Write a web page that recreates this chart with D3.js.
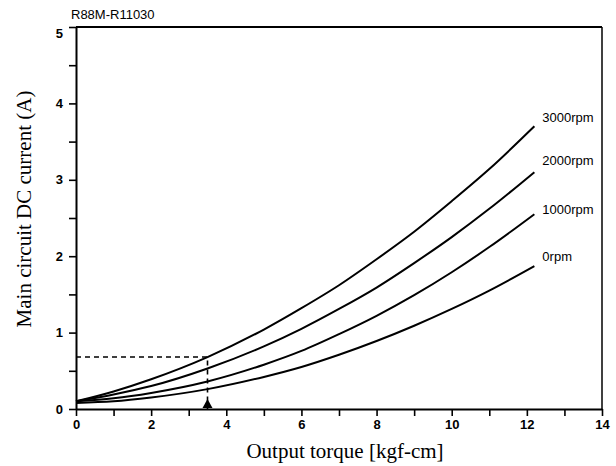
<!DOCTYPE html>
<html>
<head>
<meta charset="utf-8">
<script src="https://cdn.jsdelivr.net/npm/d3@7"></script>
<style>
  html, body { margin: 0; padding: 0; background: #fff; }
  svg { display: block; }
</style>
</head>
<body>
<svg id="chart" width="616" height="466"></svg>
<script>
// ---- data ----
const title = "R88M-R11030";
const xLabel = "Output torque [kgf-cm]";
const yLabel = "Main circuit DC current (A)";
const torque = [0, 1, 2, 3.5, 5, 6, 7, 8, 9, 10, 11, 12.2];
const seriesNames = ["3000rpm", "2000rpm", "1000rpm", "0rpm"];
const current3000 = [0.10, 0.23, 0.39, 0.68, 1.04, 1.32, 1.62, 1.96, 2.32, 2.72, 3.14, 3.70];
const current2000 = [0.10, 0.19, 0.30, 0.53, 0.82, 1.05, 1.31, 1.59, 1.91, 2.25, 2.62, 3.10];
const current1000 = [0.10, 0.14, 0.21, 0.36, 0.58, 0.76, 0.98, 1.22, 1.49, 1.79, 2.12, 2.55];
const current0 = [0.08, 0.10, 0.15, 0.26, 0.42, 0.55, 0.71, 0.89, 1.09, 1.31, 1.55, 1.87];
const xMajorTicks = [0, 2, 4, 6, 8, 10, 12, 14];
const xMinorTicks = [1, 3, 5, 7, 9, 11, 13];
const yMajorTicks = [0, 1, 2, 3, 4, 5];
const yMinorTicks = [0.5, 1.5, 2.5, 3.5, 4.5];
const markerTorque = 3.5;
const markerCurrent = 0.68;

// ---- drawing ----
const svg = d3.select("#chart");
const x = d3.scaleLinear().domain([0, 14]).range([76, 602]);
const y = d3.scaleLinear().domain([0, 5]).range([409, 27]);

const g = svg.append("g");

// frame: top and right
g.append("line").attr("x1", x(0)).attr("x2", x(14)).attr("y1", y(5)).attr("y2", y(5))
  .attr("stroke", "#000").attr("stroke-width", 2);
g.append("line").attr("x1", x(14)).attr("x2", x(14)).attr("y1", y(5)).attr("y2", y(0))
  .attr("stroke", "#000").attr("stroke-width", 1.5);

// x axis
const xAxis = g.append("g").attr("transform", `translate(0,${y(0)})`)
  .call(d3.axisBottom(x).tickValues(xMajorTicks).tickFormat(d3.format("d"))
    .tickSize(7).tickSizeOuter(0).tickPadding(4));
const xMinor = g.append("g").attr("transform", `translate(0,${y(0)})`)
  .call(d3.axisBottom(x).tickValues(xMinorTicks).tickSize(7).tickSizeOuter(0).tickFormat(""));
xMinor.select(".domain").remove();

// y axis
const yAxis = g.append("g").attr("transform", `translate(${x(0)},0)`)
  .call(d3.axisLeft(y).tickValues(yMajorTicks).tickFormat(d3.format("d"))
    .tickSize(7).tickSizeOuter(0).tickPadding(6));
const yMinor = g.append("g").attr("transform", `translate(${x(0)},0)`)
  .call(d3.axisLeft(y).tickValues(yMinorTicks).tickSize(7).tickSizeOuter(0).tickFormat(""));
yMinor.select(".domain").remove();

[xAxis, yAxis].forEach(a => a.select(".domain").attr("stroke-width", 2));
svg.selectAll(".tick line").attr("stroke", "#000").attr("stroke-width", 1.6);
svg.selectAll(".tick text")
  .attr("fill", "#000")
  .style("font-family", "'Liberation Sans', Arial, sans-serif")
  .style("font-size", "13px")
  .style("font-weight", "bold");
yAxis.selectAll(".tick text").filter(d => d === 5).attr("dy", "0.8em");

// dashed guide
g.append("path")
  .attr("d", `M${x(0)},${y(markerCurrent)}H${x(markerTorque)}V${y(0)}`)
  .attr("fill", "none").attr("stroke", "#000").attr("stroke-width", 1.6)
  .attr("stroke-dasharray", "5,4");
// triangle marker
const tx = x(markerTorque), ty = y(0) - 1;
g.append("path")
  .attr("d", `M${tx - 5},${ty}L${tx + 5},${ty}L${tx},${ty - 9}Z`)
  .attr("fill", "#000");

// curves
const seriesValues = [current3000, current2000, current1000, current0];
const labelDy = [-4, -7, 0, -5];
const line = d3.line().x(d => x(d[0])).y(d => y(d[1])).curve(d3.curveMonotoneX);
seriesValues.forEach((vals, i) => {
  const pts = torque.map((t, k) => [t, vals[k]]);
  g.append("path").datum(pts).attr("d", line)
    .attr("fill", "none").attr("stroke", "#000").attr("stroke-width", 2);
  const last = pts[pts.length - 1];
  g.append("text")
    .attr("x", x(last[0]) + 8)
    .attr("y", y(last[1]) + labelDy[i])
    .style("font-family", "'Liberation Sans', Arial, sans-serif")
    .style("font-size", "13px")
    .attr("fill", "#000")
    .text(seriesNames[i]);
});

// title
svg.append("text").attr("x", 71).attr("y", 19)
  .style("font-family", "'Liberation Sans', Arial, sans-serif")
  .style("font-size", "13px").attr("fill", "#000")
  .text(title);

// axis labels
svg.append("text")
  .attr("x", 345).attr("y", 458)
  .attr("text-anchor", "middle")
  .style("font-family", "'Liberation Serif', 'Times New Roman', serif")
  .style("font-size", "21px").attr("fill", "#000")
  .text(xLabel);
svg.append("text")
  .attr("transform", "translate(31,209) rotate(-90)")
  .attr("text-anchor", "middle")
  .style("font-family", "'Liberation Serif', 'Times New Roman', serif")
  .style("font-size", "21px").attr("fill", "#000")
  .text(yLabel);
</script>
</body>
</html>
